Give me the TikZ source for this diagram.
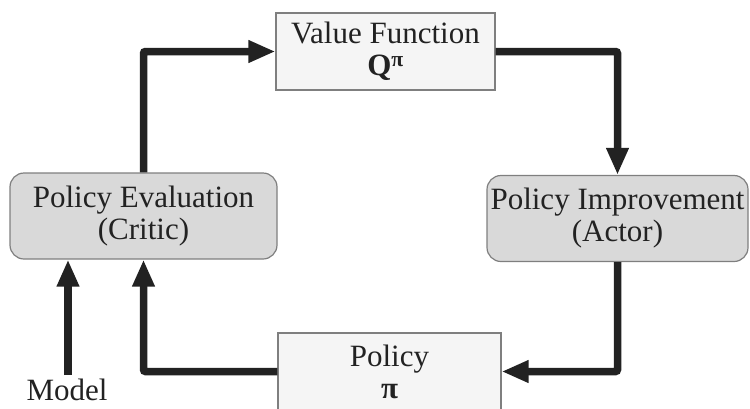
\documentclass[tikz,border=0pt]{standalone}
\usepackage{xcolor}
\usepackage{fontspec}
\setmainfont{Liberation Serif}
\usetikzlibrary{arrows.meta}
\definecolor{ink}{HTML}{222222}
\definecolor{edge}{HTML}{7F7F7F}
\definecolor{paper}{HTML}{F5F5F5}
\definecolor{shade}{HTML}{D9D9D9}

\begin{document}
\begin{tikzpicture}[x=1pt,y=-1pt, every node/.style={align=center,text=ink,font=\fontsize{31}{32}\selectfont},box/.style={draw=edge,line width=1.2pt,fill=paper,minimum width=219pt,minimum height=77pt,inner sep=0pt},roundbox/.style={draw=edge,line width=1.2pt,fill=shade,rounded corners=14pt,minimum height=86pt,inner sep=0pt},arrow/.style={-{Triangle[length=27pt,width=21pt]},line width=7.5pt,color=ink,rounded corners=2pt}]
\useasboundingbox (0,0) rectangle (750,408);
\node[box] (value) at (385.5,51.5) {Value Function\\{\bfseries Q\textsuperscript{π}}};
\node[roundbox,minimum width=267pt] (critic) at (143.5,216) {Policy Evaluation\\(Critic)};
\node[roundbox,minimum width=261pt] (actor) at (617.5,218.5) {Policy Improvement\\(Actor)};
\node[box,minimum width=223pt] (policy) at (389.5,371.5) {Policy\\{\bfseries π}};
\node[anchor=base,inner sep=0pt,text depth=0pt] (model) at (67,400.5) {Model};
\coordinate (modelin) at (68,375);
\draw[arrow] (critic.north) |- (value.west);
\draw[arrow] (value.east) -| (actor.north);
\draw[arrow] (actor.south) |- (policy.east);
\draw[arrow] (policy.west) -| (critic.south);
\draw[arrow] (modelin) -- (modelin |- critic.south);
\end{tikzpicture}
\end{document}
